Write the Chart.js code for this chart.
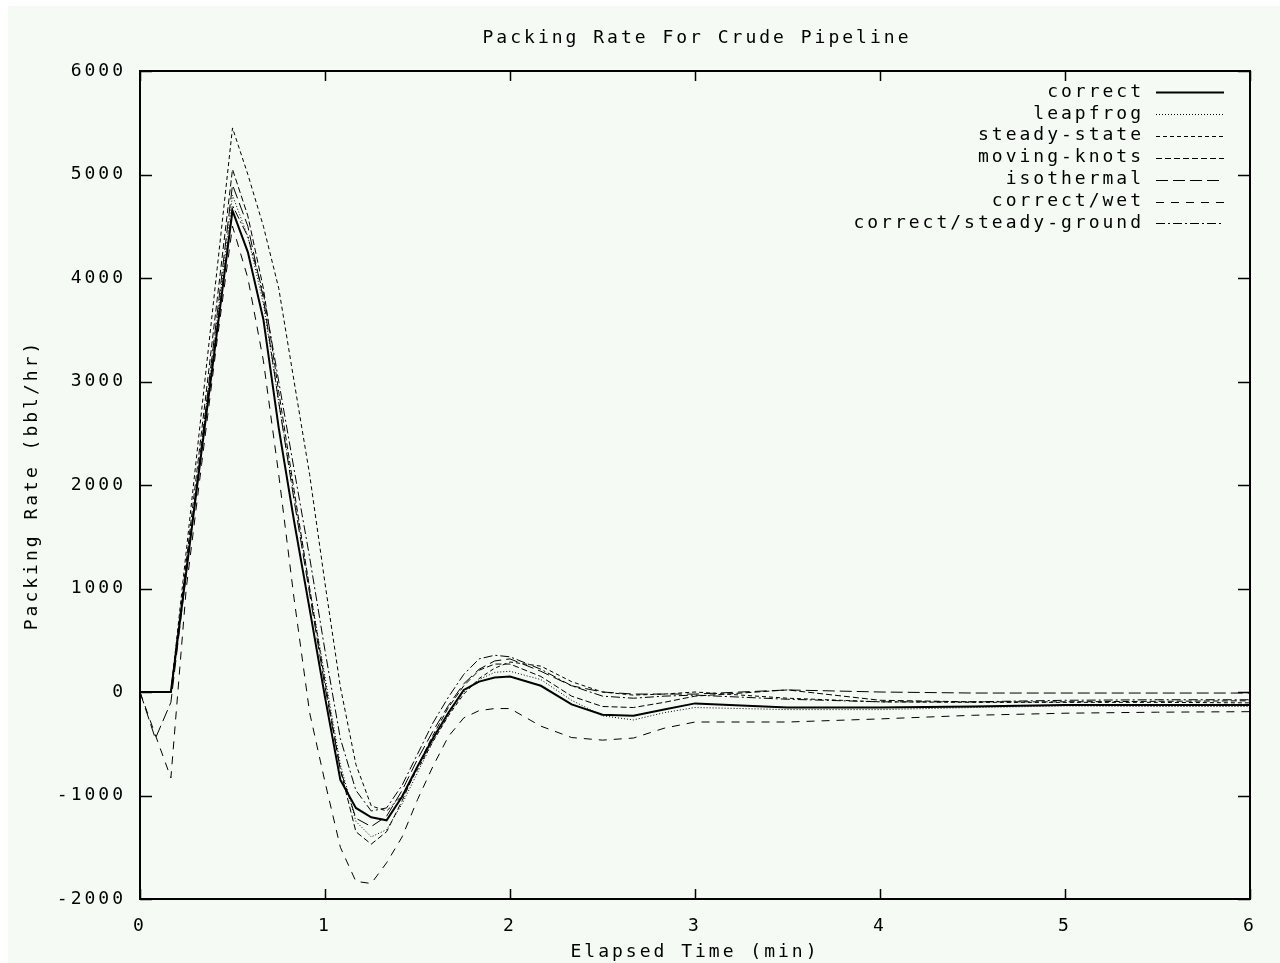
<!DOCTYPE html>
<html lang="en">
<head>
<meta charset="UTF-8" />
<title>Packing Rate For Crude Pipeline</title>
<script src="https://cdn.jsdelivr.net/npm/chart.js"></script>
<style>
  body { margin: 0; background: #ffffff; }
  #plot { position: absolute; left: 8px; top: 6px; background: #f5faf5; }
</style>
</head>
<body>
<canvas id="plot" width="1272" height="957"></canvas>
<script>
  // sample times (min)
  const times = [0, 0.083, 0.167, 0.25, 0.333, 0.417, 0.5, 0.583, 0.667, 0.75, 0.833, 0.917,
    1.0, 1.083, 1.167, 1.25, 1.333, 1.417, 1.5, 1.583, 1.667, 1.75, 1.833, 1.917,
    2.0, 2.167, 2.333, 2.5, 2.667, 2.833, 3.0, 3.5, 4.0, 4.5, 5.0, 5.5, 6.0];

  // packing rate (bbl/hr) per run
  const correct = [0, 0, 0, 1160, 2330, 3490, 4650, 4250, 3600, 2550, 1650, 800,
    -50, -850, -1120, -1210, -1240, -1010, -720, -450, -200, 20, 100, 140,
    150, 60, -120, -220, -230, -170, -110, -150, -150, -140, -125, -125, -125];
  const leapfrog = [0, 0, 0, 1200, 2400, 3600, 4800, 4400, 3750, 2800, 1900, 1000,
    150, -700, -1250, -1400, -1330, -1080, -780, -480, -220, 0, 120, 190,
    200, 120, -80, -230, -270, -200, -150, -170, -170, -150, -135, -140, -140];
  const steadyState = [0, 0, 0, 1360, 2720, 4090, 5450, 5000, 4500, 3900, 3000, 2100,
    1050, 50, -700, -1100, -1150, -1000, -750, -480, -230, -20, 130, 230,
    290, 250, 100, 0, -30, -20, 0, -60, -95, -100, -100, -100, -105];
  const movingKnots = [0, 0, 0, 1260, 2520, 3790, 5050, 4600, 3900, 2900, 1950, 1000,
    100, -750, -1350, -1470, -1350, -1050, -720, -420, -150, 60, 210, 270,
    270, 150, -40, -140, -150, -100, -40, 20, -80, -95, -95, -90, -85];
  const isothermal = [0, -450, -100, 1150, 2400, 3650, 4900, 4500, 3800, 2800, 1850, 950,
    50, -750, -1220, -1300, -1200, -950, -650, -380, -130, 80, 220, 300,
    320, 200, 60, 0, -20, -20, -20, 20, 0, -10, -10, -10, -10];
  const correctWet = [0, -415, -830, 1000, 2200, 3400, 4500, 4000, 3200, 2100, 900, -200,
    -870, -1500, -1830, -1850, -1650, -1400, -1040, -720, -430, -250, -180, -160,
    -160, -330, -440, -465, -445, -350, -290, -290, -260, -225, -205, -195, -190];
  const steadyGround = [0, 0, 0, 1180, 2350, 3530, 4700, 4400, 3850, 3000, 2150, 1300,
    400, -450, -950, -1150, -1120, -900, -600, -300, -50, 170, 320, 355,
    340, 220, 60, -40, -60, -40, -30, -70, -95, -95, -80, -75, -75];

  const names = ['correct', 'leapfrog', 'steady-state', 'moving-knots', 'isothermal', 'correct/wet', 'correct/steady-ground'];
  const series = [correct, leapfrog, steadyState, movingKnots, isothermal, correctWet, steadyGround];
  const dashes = [[], [1, 2], [4, 3], [6, 3], [12, 5], [8, 7], [9, 3, 2, 3]];
  const widths = [2, 1, 1, 1, 1, 1, 1];

  const xTicks = [0, 1, 2, 3, 4, 5, 6];
  const yTicks = [-2000, -1000, 0, 1000, 2000, 3000, 4000, 5000, 6000];

  const TITLE = 'Packing Rate For Crude Pipeline';
  const FONT = { family: 'DejaVu Sans Mono', size: 18 };

  const datasets = names.map((name, i) => ({
    label: name,
    data: times.map((t, k) => ({ x: t, y: series[i][k] })),
    borderColor: '#000',
    borderWidth: widths[i],
    borderDash: dashes[i],
    pointRadius: 0,
    tension: 0,
    fill: false
  }));

  // title over the plot, frame, inward ticks and gnuplot style key
  const framePlugin = {
    id: 'frame',
    beforeDraw(chart) {
      chart.ctx.letterSpacing = '3px';
    },
    afterDatasetsDraw(chart) {
      const { ctx, chartArea: a, scales } = chart;
      const xs = scales.x, ys = scales.y;
      ctx.save();
      ctx.font = FONT.size + 'px ' + FONT.family;
      ctx.letterSpacing = '3px';
      ctx.fillStyle = '#000';
      ctx.textAlign = 'center';
      ctx.textBaseline = 'middle';
      ctx.fillText(TITLE, (a.left + a.right) / 2 + 2, 32);

      ctx.strokeStyle = '#000';
      ctx.setLineDash([]);
      ctx.lineWidth = 2;
      ctx.strokeRect(a.left, a.top, a.right - a.left, a.bottom - a.top);
      ctx.lineWidth = 1.5;
      ctx.beginPath();
      xTicks.forEach(v => {
        const px = Math.round(xs.getPixelForValue(v)) + 0.5;
        ctx.moveTo(px, a.bottom); ctx.lineTo(px, a.bottom - 10);
        ctx.moveTo(px, a.top); ctx.lineTo(px, a.top + 10);
      });
      yTicks.forEach(v => {
        const py = Math.round(ys.getPixelForValue(v)) + 0.5;
        ctx.moveTo(a.left, py); ctx.lineTo(a.left + 12, py);
        ctx.moveTo(a.right, py); ctx.lineTo(a.right - 12, py);
      });
      ctx.stroke();

      // key
      ctx.textAlign = 'right';
      chart.data.datasets.forEach((ds, i) => {
        const yy = a.top + 21 + i * 21.9;
        ctx.fillText(ds.label, a.right - 106, yy);
        ctx.beginPath();
        ctx.lineWidth = ds.borderWidth;
        ctx.setLineDash(ds.borderDash);
        ctx.moveTo(a.right - 94, Math.round(yy) + 0.5);
        ctx.lineTo(a.right - 26, Math.round(yy) + 0.5);
        ctx.stroke();
      });
      ctx.restore();
    }
  };

  const chart = new Chart(document.getElementById('plot'), {
    type: 'line',
    data: { datasets: datasets },
    plugins: [framePlugin],
    options: {
      responsive: false,
      devicePixelRatio: 1,
      animation: false,
      layout: { padding: { top: 65, right: 30, bottom: 0, left: 0 } },
      plugins: {
        legend: { display: false },
        tooltip: { enabled: false },
        title: { display: false }
      },
      scales: {
        x: {
          type: 'linear',
          min: 0, max: 6,
          afterBuildTicks: s => { s.ticks = xTicks.map(v => ({ value: v })); },
          afterFit: s => { s.height = 64; },
          ticks: { color: '#000', font: FONT, padding: 17, maxRotation: 0 },
          grid: { display: false, drawTicks: false },
          border: { display: false },
          title: { display: true, text: 'Elapsed Time (min)', color: '#000', font: FONT, padding: { top: 0, bottom: 0 } }
        },
        y: {
          min: -2000, max: 6000,
          afterBuildTicks: s => { s.ticks = yTicks.map(v => ({ value: v })); },
          afterFit: s => { s.width = 132; },
          ticks: { color: '#000', font: FONT, padding: 14, callback: v => String(v) },
          grid: { display: false, drawTicks: false },
          border: { display: false },
          title: { display: true, text: 'Packing Rate (bbl/hr)', color: '#000', font: FONT, padding: { top: 14, bottom: 0 } }
        }
      }
    }
  });
</script>
</body>
</html>
